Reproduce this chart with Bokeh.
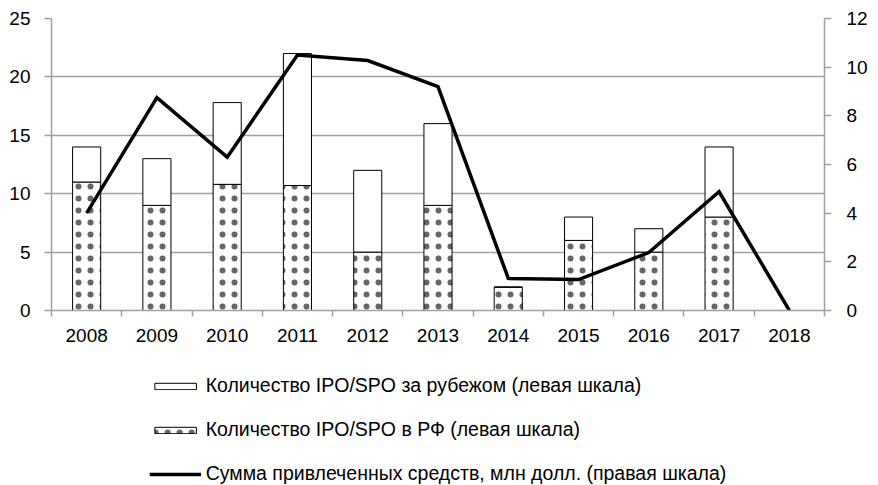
from bokeh.plotting import figure
from bokeh.models import (ColumnDataSource, Range1d, LinearAxis, FixedTicker,
                          Legend, LegendItem)
from bokeh.layouts import column
from bokeh.transform import stack
from bokeh.embed import file_html
from bokeh.resources import INLINE

years = ["2008", "2009", "2010", "2011", "2012", "2013", "2014", "2015", "2016", "2017", "2018"]
ipo_russia = [11, 9, 10.8, 10.7, 5, 9, 2, 6, 5, 8, float("nan")]
ipo_abroad = [3, 4, 7, 11.3, 7, 7, 0, 2, 2, 6, float("nan")]
raised_mln_usd = [4.0, 8.75, 6.3, 10.5, 10.27, 9.2, 1.32, 1.27, 2.38, 4.88, 0.0]

left_ticks = [0, 5, 10, 15, 20, 25]
right_ticks = [0, 2, 4, 6, 8, 10, 12]

label_abroad = "Количество IPO/SPO за рубежом (левая шкала)"
label_russia = "Количество IPO/SPO в РФ (левая шкала)"
label_sum = "Сумма привлеченных средств, млн долл. (правая шкала)"

FONT = "Liberation Sans"
TICK_SIZE = "19px"
GRAY = "#a0a0a0"

ru_style = dict(fill_color="white", line_color="black", line_width=1,
                hatch_pattern="dot", hatch_color="black", hatch_scale=12,
                hatch_alpha=0.6)
abroad_style = dict(fill_color="white", line_color="black", line_width=1)
line_style = dict(line_color="black", line_width=3.5)

xs = [i + 0.5 for i in range(len(years))]
src = ColumnDataSource(dict(x=xs, ru=ipo_russia, abroad=ipo_abroad, sum=raised_mln_usd))

p = figure(output_backend="svg", toolbar_location=None,
           width=870, height=350,
           min_border_left=51, min_border_right=40, min_border_top=18, min_border_bottom=40,
           x_range=Range1d(0, len(years)), y_range=Range1d(0, 25),
           background_fill_color="white", border_fill_color="white")
p.outline_line_color = None
p.extra_y_ranges = {"right": Range1d(0, 12)}

p.vbar(x="x", top="ru", bottom=0, width=0.4, source=src, **ru_style)
p.vbar(x="x", bottom=stack("ru"), top=stack("ru", "abroad"), width=0.4, source=src,
       **abroad_style)
p.line(x="x", y="sum", source=src, y_range_name="right", line_join="miter", **line_style)

# x axis
p.xaxis.ticker = FixedTicker(ticks=xs, minor_ticks=list(range(len(years) + 1)))
p.xaxis.major_label_overrides = {x: y for x, y in zip(xs, years)}
p.xaxis.major_tick_line_color = None
p.xaxis.minor_tick_line_color = GRAY
p.xaxis.minor_tick_line_width = 1.5
p.xaxis.minor_tick_in = 0
p.xaxis.minor_tick_out = 6
p.xaxis.axis_line_color = GRAY
p.xaxis.axis_line_width = 1.5
p.xaxis.major_label_standoff = 12
p.xaxis.major_label_text_font = FONT
p.xaxis.major_label_text_font_size = TICK_SIZE
p.xaxis.major_label_text_color = "black"
p.xgrid.grid_line_color = None

# left axis
p.yaxis.ticker = FixedTicker(ticks=left_ticks)
p.yaxis.minor_tick_line_color = None
p.yaxis.major_tick_in = 0
p.yaxis.major_tick_out = 7
p.yaxis.major_tick_line_color = GRAY
p.yaxis.major_tick_line_width = 1.5
p.yaxis.axis_line_color = GRAY
p.yaxis.axis_line_width = 1.5
p.yaxis.major_label_standoff = 14
p.yaxis.major_label_text_font = FONT
p.yaxis.major_label_text_font_size = TICK_SIZE
p.yaxis.major_label_text_color = "black"
p.ygrid.grid_line_color = GRAY
p.ygrid.grid_line_width = 1.5

# right axis
ra = LinearAxis(y_range_name="right", ticker=FixedTicker(ticks=right_ticks))
ra.minor_tick_line_color = None
ra.major_tick_in = 0
ra.major_tick_out = 7
ra.major_tick_line_color = GRAY
ra.major_tick_line_width = 1.5
ra.axis_line_color = GRAY
ra.axis_line_width = 1.5
ra.major_label_standoff = 15
ra.major_label_text_font = FONT
ra.major_label_text_font_size = TICK_SIZE
ra.major_label_text_color = "black"
p.add_layout(ra, "right")

# legend panel: a separate figure below the chart with hidden copies of the series
pl = figure(output_backend="svg", toolbar_location=None,
            width=870, height=134,
            min_border_left=51, min_border_right=40, min_border_top=0, min_border_bottom=0,
            x_range=Range1d(0, len(years)), y_range=Range1d(0, 25),
            background_fill_color="white", border_fill_color="white")
pl.axis.visible = False
pl.grid.visible = False
pl.outline_line_color = None
g_ru = pl.vbar(x="x", top="ru", bottom=0, width=0.4, source=src, visible=False, **ru_style)
g_abroad = pl.vbar(x="x", bottom=stack("ru"), top=stack("ru", "abroad"), width=0.4,
                   source=src, visible=False, **abroad_style)
g_line = pl.line(x="x", y="sum", source=src, visible=False, **line_style)

legend = Legend(items=[
    LegendItem(label=label_abroad, renderers=[g_abroad]),
    LegendItem(label=label_russia, renderers=[g_ru]),
    LegendItem(label=label_sum, renderers=[g_line]),
], location="top_center", orientation="vertical")
legend.label_text_font = FONT
legend.label_text_font_size = "19.5px"
legend.label_text_color = "black"
legend.glyph_width = 52
legend.glyph_height = 8
legend.label_standoff = 5
legend.label_height = 20
legend.spacing = 21
legend.padding = 0
legend.margin = 24
legend.border_line_color = None
legend.background_fill_alpha = 0
legend.inactive_fill_alpha = 0
pl.add_layout(legend)

layout = column(p, pl, spacing=0)
open("out.html", "w").write(file_html(layout, INLINE))
